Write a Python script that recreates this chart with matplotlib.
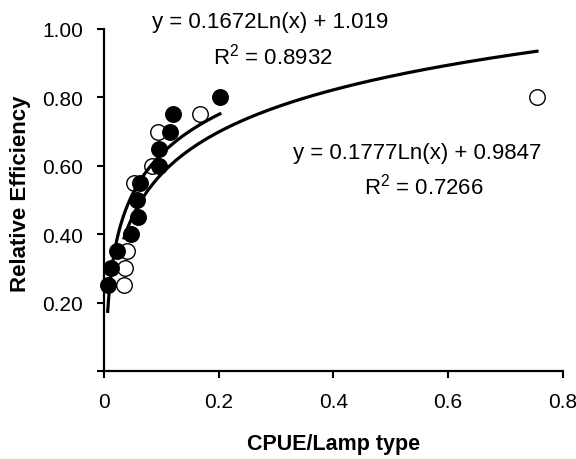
import numpy as np
import matplotlib
matplotlib.use("Agg")
import matplotlib.pyplot as plt

plt.rcParams['font.family'] = ['Liberation Sans', 'DejaVu Sans']
plt.rcParams['mathtext.fontset'] = 'custom'
plt.rcParams['mathtext.rm'] = 'Liberation Sans'
plt.rcParams['mathtext.it'] = 'Liberation Sans'

# Data
filled_x = [0.0064, 0.012, 0.022, 0.047, 0.059, 0.057, 0.063, 0.096, 0.096, 0.115, 0.121, 0.202]
filled_y = [0.25, 0.30, 0.35, 0.40, 0.45, 0.50, 0.55, 0.60, 0.65, 0.70, 0.75, 0.80]
open_x = [0.035, 0.037, 0.040, 0.053, 0.083, 0.095, 0.167, 0.755]
open_y = [0.25, 0.30, 0.35, 0.55, 0.60, 0.70, 0.75, 0.80]

# Trendlines (log fits as printed on chart)
fit_filled = (0.1672, 1.019)
fit_open = (0.1777, 0.9847)

xticks = [0, 0.2, 0.4, 0.6, 0.8]
xticklabels = ['0', '0.2', '0.4', '0.6', '0.8']
yticks = [0, 0.2, 0.4, 0.6, 0.8, 1.0]
yticklabels = ['', '0.20', '0.40', '0.60', '0.80', '1.00']

fig = plt.figure(figsize=(5.76, 4.6), dpi=100)
ax = fig.add_axes([0.1806, 0.1913, 0.7964, 0.7437])

xf = np.linspace(min(filled_x), max(filled_x), 200)
xo = np.linspace(min(open_x), max(open_x), 400)
ax.plot(xo, fit_open[0] * np.log(xo) + fit_open[1], color='black', lw=2.3, zorder=4)
ax.plot(xf, fit_filled[0] * np.log(xf) + fit_filled[1], color='black', lw=2.3, zorder=4)

ax.scatter(open_x, open_y, s=125, facecolor='white', edgecolor='black', linewidths=1.0, zorder=2, clip_on=False)
ax.scatter(filled_x, filled_y, s=125, facecolor='black', edgecolor='black', linewidths=1.0, zorder=3, clip_on=False)

ax.set_xlim(0, 0.8)
ax.set_ylim(0, 1.0)
ax.set_xticks(xticks)
ax.set_xticklabels(xticklabels)
ax.set_yticks(yticks)
ax.set_yticklabels(yticklabels)
ax.tick_params(direction='out', length=5, width=1.5, labelsize=15, pad=10)

for s in ['top', 'right']:
    ax.spines[s].set_visible(False)
for s in ['left', 'bottom']:
    ax.spines[s].set_linewidth(1.6)

ax.set_xlabel('CPUE/Lamp type', fontsize=15.5, fontweight='bold', labelpad=16)
ax.set_ylabel('Relative Efficiency', fontsize=16, fontweight='bold', labelpad=9)
ax.yaxis.set_label_coords(-0.16, 0.52)

ax.text(0.2893, 1.023, 'y = 0.1672Ln(x) + 1.019', fontsize=16, ha='center', va='center', clip_on=False)
ax.text(0.2954, 0.90, 'R$^2$ = 0.8932', fontsize=16, ha='center', va='baseline', clip_on=False)
ax.text(0.5464, 0.640, 'y = 0.1777Ln(x) + 0.9847', fontsize=16, ha='center', va='center')
ax.text(0.5577, 0.52, 'R$^2$ = 0.7266', fontsize=16, ha='center', va='baseline')

fig.savefig('out.png', dpi=100)
